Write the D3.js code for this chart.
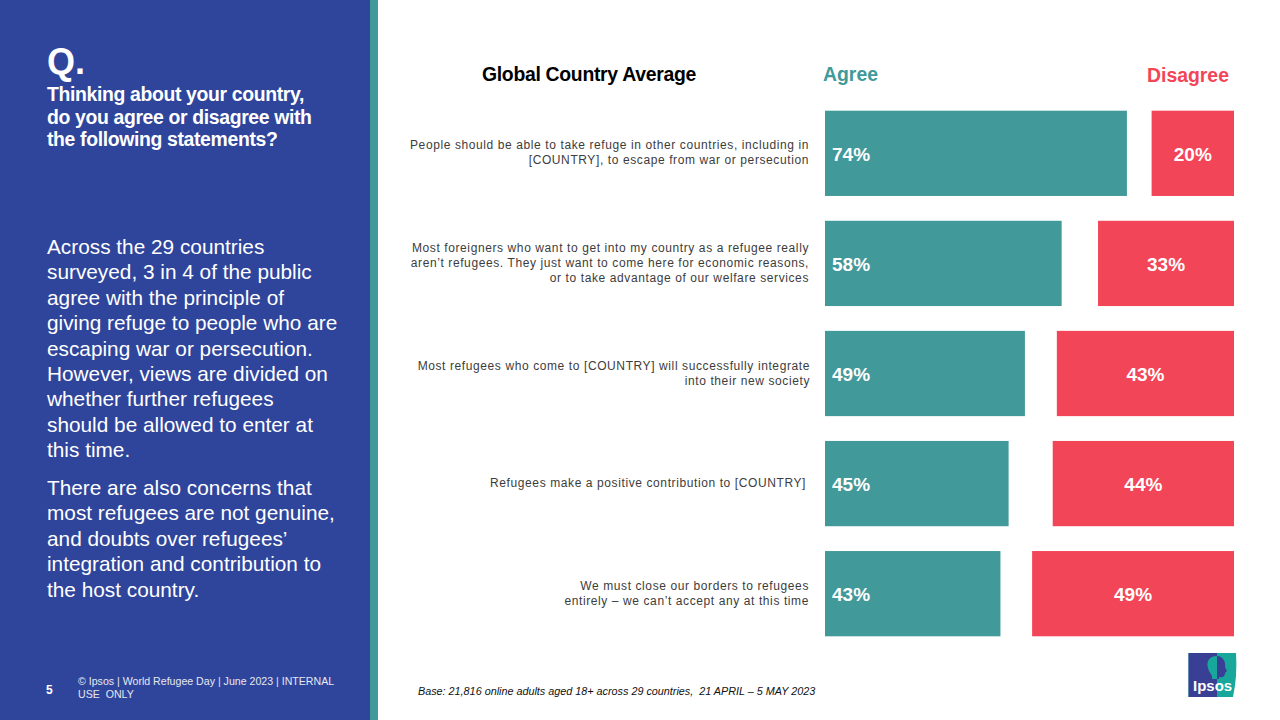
<!DOCTYPE html>
<html><head><meta charset="utf-8">
<script src="https://cdn.jsdelivr.net/npm/d3@7/dist/d3.min.js"></script>
<style>html,body{margin:0;padding:0;background:#fff;overflow:hidden}svg{display:block}text{font-family:"Liberation Sans",Arial,sans-serif}</style>
</head><body><svg id="c" width="1280" height="720"></svg>
<script>
const statements = [
 ["People should be able to take refuge in other countries, including in","[COUNTRY], to escape from war or persecution"],
 ["Most foreigners who want to get into my country as a refugee really","aren\u2019t refugees. They just want to come here for economic reasons,","or to take advantage of our welfare services"],
 ["Most refugees who come to [COUNTRY] will successfully integrate","into their new society"],
 ["Refugees make a positive contribution to [COUNTRY]"],
 ["We must close our borders to refugees","entirely \u2013 we can\u2019t accept any at this time"]
];
const agree = [74,58,49,45,43];
const disagree = [20,33,43,44,49];
const questionLines = ["Thinking about your country,","do you agree or disagree with","the following statements?"];
const para1 = ["Across the 29 countries","surveyed, 3 in 4 of the public","agree with the principle of","giving refuge to people who are","escaping war or persecution.","However, views are divided on","whether further refugees","should be allowed to enter at","this time."];
const para2 = ["There are also concerns that","most refugees are not genuine,","and doubts over refugees\u2019","integration and contribution to","the host country."];
const footer = ["\u00A9 Ipsos | World Refugee Day | June 2023 | INTERNAL","USE  ONLY"];
const base = "Base: 21,816 online adults aged 18+ across 29 countries,  21 APRIL \u2013 5 MAY 2023";

const TEAL="#41999A", RED="#F34558", BLUE="#2F459B";
const svg=d3.select("#c");
svg.append("rect").attr("width",370).attr("height",720).attr("fill",BLUE);
svg.append("rect").attr("x",370).attr("width",8).attr("height",720).attr("fill",TEAL);

const y=d3.scaleBand().domain(d3.range(agree.length)).range([110.7,636.3]).paddingInner(0.2255).paddingOuter(0).align(0);
const xA=d3.scaleLinear().domain([0,100]).range([825,1233]);
const xD=d3.scaleLinear().domain([0,100]).range([1234,822]);
const bh=y.bandwidth();

function lines(arr,x,y0,lh,size,fill,weight,ls,anchor){
  const g=svg.append("g");
  g.selectAll("text").data(arr).join("text").attr("x",x).attr("y",(d,i)=>y0+i*lh)
   .attr("font-size",size).attr("fill",fill).attr("font-weight",weight||400)
   .attr("letter-spacing",ls||0).attr("text-anchor",anchor||"start").style("white-space","pre").text(d=>d);
  return g;
}
lines(["Q."],47,74,0,36,"#fff",700);
lines(questionLines,47,101,22.7,19.4,"#fff",700,-0.35);
lines(para1,47,254,25.4,20.8,"#fff",400);
lines(para2,47,495,25.4,20.8,"#fff",400);
lines(["5"],46,694,0,12,"#fff",700);
lines(footer,78,685,13,10.6,"#E6E8F2",400);
lines([base],418,695,0,10.8,"#111",400).selectAll("text").attr("font-style","italic");

lines(["Global Country Average"],482,81,0,19.4,"#000",700,-0.3);
lines(["Agree"],823,81,0,19.4,TEAL,700);
lines(["Disagree"],1147,82,0,19.4,RED,700);

const rows=svg.append("g").selectAll("g").data(agree.map((a,i)=>({a,d:disagree[i],s:statements[i],i}))).join("g");
rows.append("rect").attr("x",xA(0)).attr("y",d=>y(d.i)).attr("width",d=>xA(d.a)-xA(0)).attr("height",bh).attr("fill",TEAL);
rows.append("rect").attr("x",d=>xD(d.d)).attr("y",d=>y(d.i)).attr("width",d=>xD(0)-xD(d.d)).attr("height",bh).attr("fill",RED);
rows.append("text").attr("x",832).attr("y",d=>y(d.i)+bh/2+7.5).attr("font-size",19).attr("font-weight",700).attr("fill","#fff").text(d=>d.a+"%");
rows.append("text").attr("x",d=>(xD(d.d)+xD(0))/2).attr("y",d=>y(d.i)+bh/2+7.5).attr("text-anchor","middle").attr("font-size",19).attr("font-weight",700).attr("fill","#fff").text(d=>d.d+"%");
rows.each(function(d){
  const g=d3.select(this), lh=15, n=d.s.length, mid=y(d.i)+bh/2;
  g.selectAll("text.s").data(d.s).join("text").attr("class","s")
   .attr("x",d.i===3?806:d.i===2?810:809).attr("y",(t,k)=>mid+(k-(n-1)/2)*lh+3.5)
   .attr("text-anchor","end").attr("font-size",12).attr("letter-spacing",0.6).attr("fill","#3c3c3c").style("white-space","pre").text(t=>t);
});

// logo
const logo=svg.append("g").attr("transform","translate(1188,652)");
logo.append("path").attr("d","M0.5,1 H48 Q49.5,24 45,45 H0.5 Z").attr("fill","#17A79B");
logo.append("path").attr("d","M0.5,1 H29 V45 H0.5 Z").attr("fill","#3A3F96");
logo.append("path").attr("d","M29,4 C21,4 18,10 20,16 C21,20 23,22 24,24 L24,27 H29 Z").attr("fill","#17A79B");
logo.append("path").attr("d","M29,4 C35,4 38,10 37,15 L39,19 L37,21 C37,25 34,26 31,25 L31,27 H29 Z").attr("fill","#3A3F96");
logo.append("text").attr("x",5).attr("y",39).attr("font-size",15).attr("font-weight",700).attr("fill","#fff").text("Ipsos");
</script></body></html>
